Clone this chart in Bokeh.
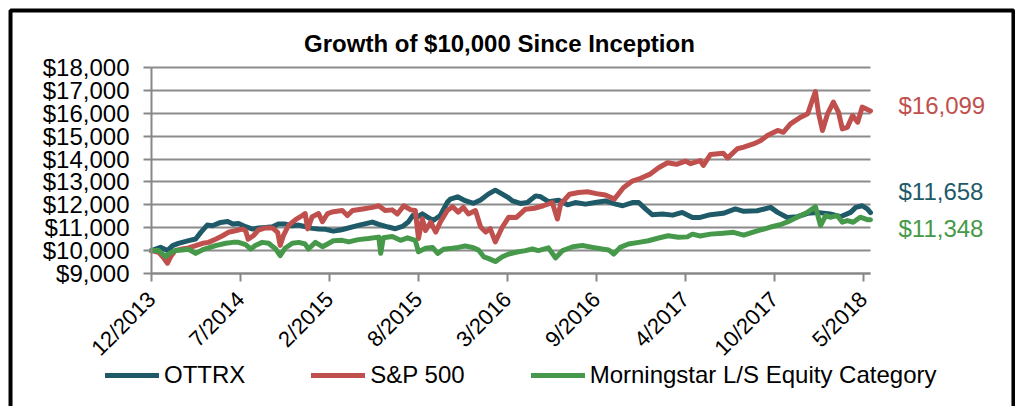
from bokeh.plotting import figure
from bokeh.models import (Range1d, FixedTicker, NumeralTickFormatter, Label,
                          Legend, LegendItem, BoxAnnotation, Grid)
from bokeh.embed import file_html
from bokeh.resources import INLINE
import math

# ---- data (trading-day index since 12/2013, growth of $10,000) ----
tick_days = [0, 139, 278, 417, 556, 695, 834, 973, 1112]
tick_labels = ["12/2013", "7/2014", "2/2015", "8/2015", "3/2016",
               "9/2016", "4/2017", "10/2017", "5/2018"]
y_ticks = [9000, 10000, 11000, 12000, 13000, 14000, 15000, 16000, 17000, 18000]

ottrx_x = [0, 14, 25, 33, 42, 58, 69, 77, 87, 95, 108, 119, 127, 136, 147, 158, 167,
           178, 189, 198, 209, 220, 230, 241, 251, 261, 272, 284, 295, 303, 323, 345,
           355, 370, 381, 392, 401, 408, 415, 423, 433, 440, 451, 462, 467, 478, 490,
           503, 514, 526, 537, 548, 558, 564, 576, 587, 600, 608, 620, 636, 650, 662,
           678, 693, 709, 725, 736, 751, 761, 772, 782, 798, 814, 829, 845, 857, 873,
           893, 912, 925, 946, 967, 978, 993, 1009, 1025, 1040, 1060, 1076, 1092, 1100,
           1110, 1118, 1123]
ottrx_y = [10000, 10145, 10000, 10217, 10319, 10435, 10507, 10797, 11116, 11087, 11232,
           11275, 11160, 11188, 11043, 10942, 10986, 11014, 11043, 11159, 11159, 11087,
           11116, 11043, 10971, 10942, 10930, 10850, 10900, 10957, 11101, 11245, 11144,
           11029, 10957, 11058, 11245, 11532, 11460, 11604, 11432, 11317, 11532, 12108,
           12252, 12353, 12180, 12065, 12209, 12468, 12640, 12468, 12300, 12170, 12060,
           12100, 12390, 12350, 12140, 12200, 12000, 12100, 12030, 12100, 12170, 12030,
           11960, 12100, 12100, 11810, 11570, 11600, 11550, 11670, 11450, 11450, 11570,
           11630, 11820, 11715, 11740, 11890, 11670, 11450, 11480, 11630, 11670, 11600,
           11480, 11670, 11890, 11960, 11820, 11658]

sp500_x = [0, 11, 19, 25, 30, 37, 48, 58, 69, 80, 89, 100, 111, 120, 131, 142, 147, 151,
           159, 167, 178, 189, 197, 201, 206, 214, 225, 236, 240, 244, 251, 261, 267,
           275, 284, 298, 306, 314, 330, 345, 355, 365, 376, 384, 394, 405, 412, 417,
           423, 428, 436, 444, 451, 462, 470, 479, 487, 495, 506, 514, 522, 529, 537,
           548, 558, 570, 584, 598, 612, 626, 634, 639, 653, 667, 681, 695, 709, 723,
           737, 751, 764, 778, 792, 806, 820, 834, 842, 857, 862, 873, 893, 900, 915,
           925, 940, 951, 962, 978, 987, 998, 1014, 1025, 1032, 1037, 1042, 1048, 1056,
           1065, 1073, 1079, 1087, 1095, 1103, 1110, 1123]
sp500_y = [10000, 9930, 9680, 9450, 9740, 10000, 10070, 10115, 10220, 10320, 10360,
           10500, 10650, 10800, 10870, 10940, 10870, 10500, 10650, 10900, 10990, 10990,
           10800, 10230, 10650, 11100, 11350, 11540, 11620, 10950, 11480, 11620, 11260,
           11620, 11700, 11750, 11530, 11750, 11820, 11890, 11960, 11750, 11780, 11600,
           11960, 11780, 11750, 10530, 11390, 10880, 11240, 10810, 11240, 11750, 11920,
           11680, 11890, 11600, 11750, 11030, 10810, 10960, 10380, 11030, 11460, 11450,
           11810, 11850, 11960, 12100, 11380, 12030, 12460, 12540, 12570, 12490, 12430,
           12250, 12750, 13040, 13160, 13330, 13620, 13840, 13770, 13910, 13800, 13930,
           13720, 14200, 14250, 14050, 14450, 14520, 14660, 14800, 15030, 15250, 15170,
           15540, 15830, 15980, 16560, 16950, 15980, 15250, 15980, 16490, 16050, 15320,
           15390, 15900, 15610, 16270, 16099]

lse_x = [0, 11, 22, 27, 37, 48, 58, 69, 80, 89, 100, 116, 127, 136, 147, 155, 162, 173,
         183, 194, 201, 209, 220, 230, 240, 245, 256, 267, 275, 284, 298, 308, 323, 339,
         355, 358, 362, 376, 389, 400, 412, 417, 428, 439, 447, 456, 470, 479, 490, 501,
         511, 519, 526, 537, 548, 558, 569, 584, 595, 604, 620, 631, 642, 658, 673, 689,
         704, 714, 722, 732, 745, 761, 776, 792, 807, 823, 837, 845, 857, 873, 893, 909,
         925, 946, 967, 982, 998, 1014, 1025, 1037, 1045, 1053, 1060, 1071, 1079, 1087,
         1096, 1107, 1118, 1123]
lse_y = [10000, 10000, 9740, 9860, 10000, 10030, 10060, 9880, 10040, 10115, 10220,
         10320, 10360, 10360, 10260, 10070, 10220, 10360, 10320, 10070, 9780, 10115,
         10320, 10360, 10290, 10070, 10360, 10170, 10290, 10430, 10450, 10380, 10480,
         10525, 10590, 9880, 10560, 10620, 10450, 10560, 10450, 9950, 10100, 10140, 9880,
         10060, 10100, 10140, 10200, 10140, 10020, 9730, 9660, 9520, 9730, 9850, 9930,
         10000, 10070, 10000, 10120, 9680, 10000, 10170, 10220, 10140, 10070, 10030, 9850,
         10140, 10290, 10360, 10430, 10550, 10650, 10580, 10600, 10720, 10640, 10720,
         10760, 10800, 10680, 10860, 11030, 11130, 11310, 11530, 11680, 11920, 11090,
         11530, 11460, 11530, 11240, 11310, 11240, 11460, 11350, 11348]

series = [("OTTRX", ottrx_x, ottrx_y, "#1F5A69"),
          ("S&P 500", sp500_x, sp500_y, "#C0504D"),
          ("Morningstar L/S Equity Category", lse_x, lse_y, "#46994A")]

FONT = "Liberation Sans"
W, H = 1015, 406
# plot area spans day 0..1123 and $9,000..$18,000; canvas extends beyond it
X0, X1 = -235.85, 1349.5
Y0, Y1 = 3189.3, 20927.2

p = figure(width=W, height=H, output_backend="svg", toolbar_location=None,
           x_range=Range1d(X0, X1), y_range=Range1d(Y0, Y1),
           min_border=0, min_border_left=0, min_border_right=0,
           min_border_top=0, min_border_bottom=0)
p.outline_line_color = None
p.background_fill_color = "white"
p.border_fill_color = "white"

# axes (pinned inside the canvas)
p.yaxis.ticker = FixedTicker(ticks=y_ticks)
p.yaxis.formatter = NumeralTickFormatter(format="$0,0")
p.yaxis.fixed_location = 0
p.yaxis.bounds = (y_ticks[0], y_ticks[-1])
p.xaxis.ticker = FixedTicker(ticks=tick_days)
p.xaxis.major_label_overrides = {d: l for d, l in zip(tick_days, tick_labels)}
p.xaxis.major_label_orientation = math.pi / 4
p.xaxis.fixed_location = y_ticks[0]
p.xaxis.bounds = (0, ottrx_x[-1])
for ax in (p.xaxis, p.yaxis):
    ax.axis_line_color = "#878787"
    ax.axis_line_width = 2
    ax.major_tick_line_color = "#878787"
    ax.major_tick_line_width = 2
    ax.major_tick_out = 8
    ax.major_tick_in = 0
    ax.minor_tick_line_color = None
    ax.major_label_text_font = FONT
    ax.major_label_text_font_size = "24px"
    ax.major_label_text_color = "#000000"
p.yaxis.major_label_standoff = 14
p.xaxis.major_label_standoff = 14
p.xaxis.major_label_text_font_size = "22px"
p.xgrid.grid_line_color = None

if "cross_bounds" in Grid.properties():
    p.ygrid.bounds = (y_ticks[0], y_ticks[-1])
    p.ygrid.cross_bounds = (0, ottrx_x[-1])
    p.ygrid.grid_line_color = "#8C8C8C"
    p.ygrid.grid_line_width = 2
else:
    p.ygrid.grid_line_color = None
    p.segment(x0=[0] * len(y_ticks), x1=[ottrx_x[-1]] * len(y_ticks),
              y0=y_ticks, y1=y_ticks, line_color="#8C8C8C", line_width=2)

items = []
for name, xs, ys, col in series:
    r = p.line(xs, ys, line_color=col, line_width=5, line_join="round", line_cap="round")
    items.append(LegendItem(label=name, renderers=[r]))

legend = Legend(items=items, orientation="horizontal", location=(105, 17),
                glyph_width=54, glyph_height=22, label_standoff=5, spacing=66,
                padding=0, margin=0, border_line_color=None,
                background_fill_alpha=0, label_text_font=FONT,
                label_text_font_size="24px", label_text_color="#000000",
                label_height=22)
p.add_layout(legend, "center")

# end-value labels
end_label_y = [12583, 16340, 10966]
for (name, xs, ys, col), ly in zip(series, end_label_y):
    p.add_layout(Label(x=1166.7, y=ly, text="${:,.0f}".format(ys[-1]),
                       text_font=FONT, text_font_size="24px", text_color=col,
                       text_baseline="middle", text_align="left"))

# title
p.add_layout(Label(x=543.5, y=19048, text="Growth of $10,000 Since Inception",
                   text_font=FONT, text_font_size="24px", text_font_style="bold",
                   text_color="#000000", text_align="center", text_baseline="middle"))

# chart-area border
p.add_layout(BoxAnnotation(left=-220.2, right=1346.3, top=20490.3, bottom=2752,
                           fill_alpha=0, line_color="black", line_alpha=1.0,
                           line_width=4))

open("out.html", "w").write(file_html(p, INLINE))
